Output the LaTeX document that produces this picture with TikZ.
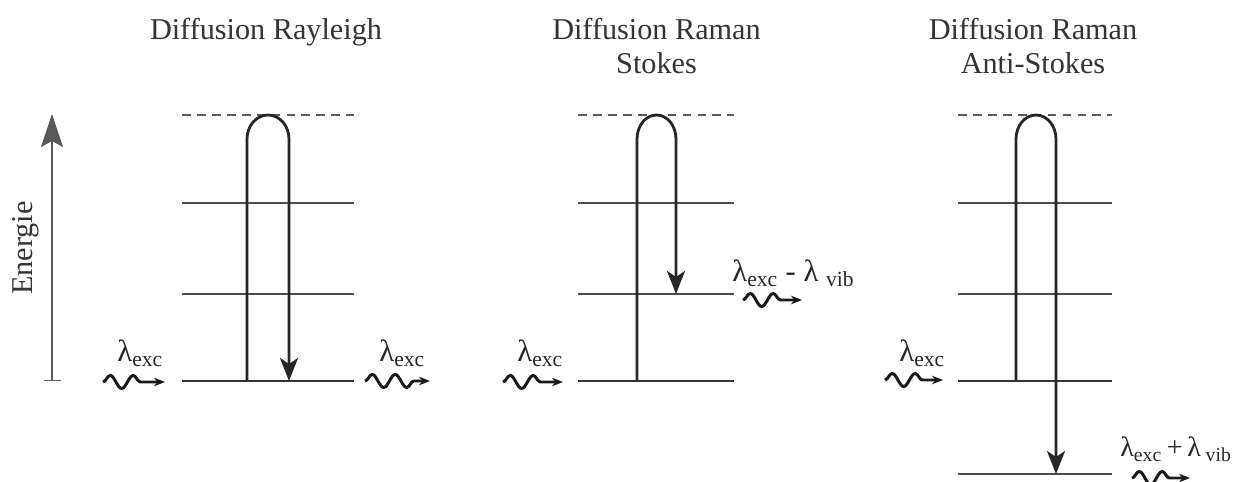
\documentclass[tikz,border=0pt]{standalone}
\usepackage{fontspec}
\setmainfont{Liberation Serif}
\usetikzlibrary{arrows.meta,decorations.pathmorphing}

\begin{document}
\begin{tikzpicture}[
	level/.style={draw=black!70, line width=1.1pt},
	ground/.style={draw=black!80, line width=1.4pt},
	virtual/.style={draw=black!65, line width=1.1pt, dash pattern=on 5pt off 3.5pt},
	trans/.style={draw=black!85, line width=1.6pt, -{Stealth[length=0.46cm, width=0.36cm, inset=0.12cm]}},
	photon/.style={draw=black!90, line width=1.7pt, decorate,
		decoration={snake, amplitude=0.13cm, segment length=0.46cm, post length=0.3cm},
		-{Stealth[length=0.22cm, width=0.17cm]}},
	title/.style={font=\fontsize{17.2}{19}\selectfont, text=black!80, align=center},
	lbl/.style={font=\fontsize{17.5}{19}\selectfont, text=black!85, inner sep=0pt, anchor=base west}
]
	\useasboundingbox (0,0) rectangle (24.7,9.64);

	% energy axis
	\coordinate (e0) at (1.04, 2.02);
	\coordinate (e1) at (1.04, 7.36);
	\draw[black!65, line width=0.8pt, {Bar[width=0.34cm]}-{Stealth[length=0.66cm, width=0.44cm, inset=0.12cm]}] (e0) -- (e1);
	\node (energie) [title, rotate=90] at (0.52, 4.68) {Energie};

	% titles
	\node (t1) [title] at (5.32, 9.0) {Diffusion Rayleigh};
	\node (t2) [title] at (13.13, 8.72) {Diffusion Raman\\Stokes};
	\node (t3) [title] at (20.66, 8.72) {Diffusion Raman\\Anti-Stokes};

	% levels
	\foreach \xa/\xb in {3.64/7.08, 11.56/14.68, 19.16/22.24} {
		\draw[virtual] (\xa, 7.34) -- (\xb, 7.34);
		\draw[level] (\xa, 5.58) -- (\xb, 5.58);
		\draw[level] (\xa, 3.76) -- (\xb, 3.76);
		\draw[ground] (\xa, 2.02) -- (\xb, 2.02);
	}
	\draw[level] (19.16, 0.16) -- (22.24, 0.16);

	% transitions
	\coordinate (ray-up) at (4.94, 2.02);
	\coordinate (ray-down) at (5.78, 2.02);
	\coordinate (sto-up) at (12.74, 2.02);
	\coordinate (sto-down) at (13.52, 3.76);
	\coordinate (ast-up) at (20.32, 2.02);
	\coordinate (ast-down) at (21.12, 0.16);

	\draw[trans] (ray-up) -- ++(0, 4.84) arc[start angle=180, end angle=0, x radius=0.42, y radius=0.48] -- (ray-down);
	\draw[trans] (sto-up) -- ++(0, 4.84) arc[start angle=180, end angle=0, x radius=0.39, y radius=0.48] -- (sto-down);
	\draw[trans] (ast-up) -- ++(0, 4.84) arc[start angle=180, end angle=0, x radius=0.40, y radius=0.48] -- (ast-down);

	% photons
	\coordinate (w1a) at (2.06, 2.0);   \coordinate (w1b) at (3.3, 2.0);
	\coordinate (w2a) at (7.3, 2.02);   \coordinate (w2b) at (8.6, 2.02);
	\coordinate (w3a) at (10.06, 2.0);  \coordinate (w3b) at (11.26, 2.0);
	\coordinate (w4a) at (14.86, 3.64); \coordinate (w4b) at (16.04, 3.64);
	\coordinate (w5a) at (17.7, 2.04);  \coordinate (w5b) at (18.86, 2.04);
	\coordinate (w6a) at (22.64, 0.08); \coordinate (w6b) at (23.8, 0.08);

	\draw[photon] (w1a) -- (w1b);
	\draw[photon] (w2a) -- (w2b);
	\draw[photon] (w3a) -- (w3b);
	\draw[photon] (w4a) -- (w4b);
	\draw[photon] (w5a) -- (w5b);
	\draw[photon] (w6a) -- (w6b);

	\node (l1) [lbl] at (2.34, 2.4) {λ\textsubscript{exc}};
	\node (l2) [lbl] at (7.58, 2.4) {λ\textsubscript{exc}};
	\node (l3) [lbl] at (10.34, 2.4) {λ\textsubscript{exc}};
	\node (l4) [lbl] at (14.64, 4.0) {λ\textsubscript{exc} - λ \textsubscript{vib}};
	\node (l5) [lbl] at (17.98, 2.4) {λ\textsubscript{exc}};
	\node (l6) [lbl, font=\fontsize{16}{18}\selectfont] at (22.4, 0.5) {λ\textsubscript{exc}\,+\,λ\,\textsubscript{vib}};

\end{tikzpicture}
\end{document}
